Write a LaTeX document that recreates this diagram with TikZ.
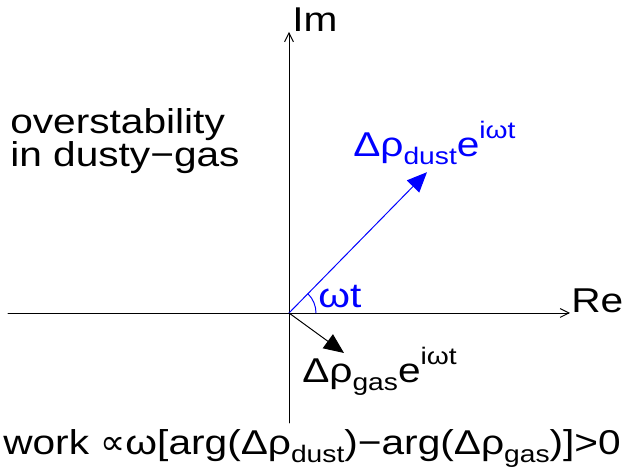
\documentclass[tikz,border=0pt]{standalone}
\usepackage{fontspec}
\setmainfont{Liberation Sans}[FakeStretch=1.18]
\newfontfamily\symbolfont{DejaVu Sans}
\usetikzlibrary{arrows.meta}
\newcommand{\lowtext}[1]{\raisebox{-0.22em}{\fontsize{17}{17}\selectfont #1}}
\newcommand{\hightext}[1]{\raisebox{0.55em}{\fontsize{17}{17}\selectfont #1}}

\begin{document}
\begin{tikzpicture}[line cap=round,line join=round,
  axis/.style={-{Straight Barb[length=2.2mm,width=2.2mm]},line width=0.7pt},
  vec/.style={-{Triangle[length=5mm,width=4.3mm]},line width=0.7pt},
  lbl/.style={inner sep=0pt,font=\fontsize{24.5}{23.5}\selectfont}]
 \useasboundingbox (-7.225,-4.075) rectangle (8.35,7.825);
 \coordinate (O) at (0,0);
 \coordinate (west) at (-7.025,0);
 \coordinate (east) at (7.025,0);
 \coordinate (south) at (0,-2.75);
 \coordinate (north) at (0,7.025);
 \coordinate (dust) at (3.45,3.52);
 \coordinate (gas) at (1.375,-1.0);
 % axes and the two rotating vectors
 \draw[axis] (west) -- (east);
 \draw[axis] (south) -- (north);
 \draw[vec,blue] (O) -- (dust);
 \draw[vec] (O) -- (gas);
 \draw[blue,line width=0.7pt] (0.675,0) arc[start angle=0,end angle=45.6,radius=0.675];
 \node[lbl,anchor=base west] (im) at (0.075,7.025) {Im};
 \node[lbl,anchor=base west] (re) at (7.05,0) {Re};
 \node[lbl,anchor=base west,blue] (phase) at (0.725,0.125) {ωt};
 \node[lbl,anchor=base west,blue] (dustlbl) at (1.6,3.9)
  {Δρ\lowtext{dust}e\hightext{iωt}};
 \node[lbl,anchor=base west] (gaslbl) at (0.325,-1.75)
  {Δρ\lowtext{gas}e\hightext{iωt}};
 \node[lbl,anchor=base west,align=left] (title) at (-6.975,3.65)
  {overstability\\in dusty−gas};
 \node[lbl,anchor=base west] (work) at (-7.15,-3.55)
  {work {\symbolfont\fontsize{25}{25}\selectfont ∝}ω[arg(Δρ\lowtext{dust})−arg(Δρ\lowtext{gas})]>0};
\end{tikzpicture}
\end{document}
